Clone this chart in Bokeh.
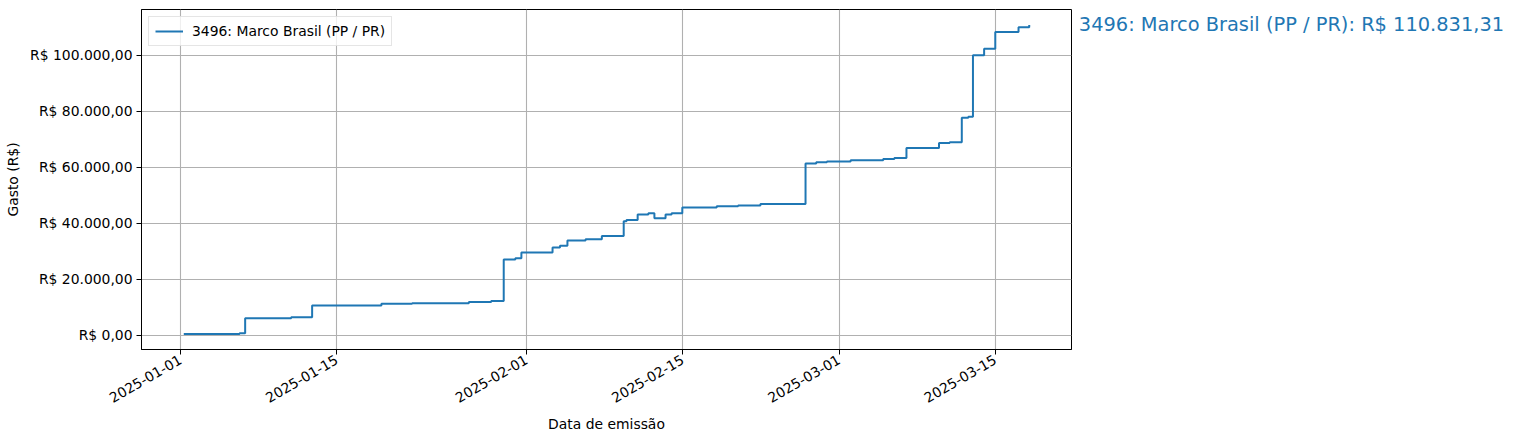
import math
import pandas as pd
from bokeh.plotting import figure
from bokeh.layouts import row
from bokeh.models import (FixedTicker, DatetimeTickFormatter, CustomJSTickFormatter, Range1d)
from bokeh.core.properties import value
from bokeh.embed import file_html
from bokeh.resources import INLINE

# ---- data ----
series_name = "3496: Marco Brasil (PP / PR)"
dates = [
    "2025-01-01 07:00", "2025-01-06 07:00", "2025-01-06 19:00", "2025-01-10 22:00",
    "2025-01-12 19:00", "2025-01-19 00:00", "2025-01-21 18:00", "2025-01-26 20:00",
    "2025-01-28 20:00", "2025-01-29 23:00", "2025-01-31 00:00", "2025-01-31 13:00",
    "2025-02-03 08:00", "2025-02-04 00:00", "2025-02-04 16:00", "2025-02-06 07:00",
    "2025-02-07 18:00", "2025-02-09 17:00", "2025-02-09 23:00", "2025-02-10 23:00",
    "2025-02-11 22:00", "2025-02-12 11:00", "2025-02-13 11:00", "2025-02-14 00:00",
    "2025-02-14 23:00", "2025-02-18 01:00", "2025-02-19 23:00", "2025-02-21 23:00",
    "2025-02-26 00:00", "2025-02-26 23:00", "2025-02-27 22:00", "2025-03-02 01:00",
    "2025-03-04 23:00", "2025-03-05 23:00", "2025-03-07 01:00", "2025-03-09 23:00",
    "2025-03-10 22:00", "2025-03-12 00:00", "2025-03-12 14:00", "2025-03-13 00:00",
    "2025-03-14 00:00", "2025-03-15 00:00", "2025-03-17 02:00", "2025-03-18 01:00",
]
gasto = [
    500, 800, 6150, 6500,
    10700, 11300, 11500, 11900,
    12300, 27100, 27600, 29600,
    31400, 32000, 33900, 34300,
    35500, 40800, 41200, 43200,
    43600, 41800, 43200, 43600,
    45700, 46100, 46400, 46900,
    61400, 61800, 62100, 62500,
    63000, 63300, 66900, 68700,
    69000, 77700, 78100, 100000,
    102300, 108300, 110000, 110831.31,
]
x_tick_labels = ["2025-01-01", "2025-01-15", "2025-02-01", "2025-02-15", "2025-03-01", "2025-03-15"]
y_ticks = [0, 20000, 40000, 60000, 80000, 100000]
final_label = "3496: Marco Brasil (PP / PR): R$ 110.831,31"

# ---- build ----
xs = pd.to_datetime(dates)
def ms(t):
    return pd.Timestamp(t).value / 1e6
xms = [ms(t) for t in xs]
x0, x1 = min(xms), max(xms)
xm = 0.05 * (x1 - x0)
y0, y1 = min(gasto), max(gasto)
ym = 0.05 * (y1 - y0)

FONT = "DejaVu Sans"
FS = "13.9px"
BLUE = "#1f77b4"
FW, FH = 930, 340
TOP, BOTTOM, RIGHT = 9, 88, 1

p = figure(frame_width=FW, frame_height=FH, output_backend="svg", toolbar_location=None,
           x_axis_type="datetime",
           x_range=Range1d(x0 - xm, x1 + xm), y_range=Range1d(y0 - ym, y1 + ym),
           min_border_left=141, min_border_right=RIGHT, min_border_top=TOP, min_border_bottom=BOTTOM)
p.outline_line_color = "black"
p.outline_line_width = 1
p.background_fill_color = "white"
p.border_fill_color = "white"

p.step(xs, gasto, mode="after", line_color=BLUE, line_width=2, legend_label=series_name)

# axes
p.xaxis.ticker = FixedTicker(ticks=[ms(t) for t in x_tick_labels])
fmt = "%Y-%m-%d"
p.xaxis.formatter = DatetimeTickFormatter(milliseconds=fmt, seconds=fmt, minsec=fmt, minutes=fmt,
                                          hourmin=fmt, hours=fmt, days=fmt, months=fmt, years=fmt)
p.xaxis.major_label_orientation = math.pi / 6
p.yaxis.ticker = FixedTicker(ticks=y_ticks)
p.yaxis.formatter = CustomJSTickFormatter(code="""
const s = tick.toFixed(2); const parts = s.split('.');
return 'R$ ' + parts[0].replace(/\\B(?=(\\d{3})+(?!\\d))/g, '.') + ',' + parts[1];
""")
p.xaxis.axis_label = "Data de emissão"
p.yaxis.axis_label = "Gasto (R$)"
for ax in (p.xaxis, p.yaxis):
    ax.axis_label_text_font = FONT
    ax.axis_label_text_font_size = FS
    ax.axis_label_text_font_style = "normal"
    ax.axis_label_text_color = "black"
    ax.major_label_text_font = FONT
    ax.major_label_text_font_size = FS
    ax.major_label_text_color = "black"
    ax.axis_line_color = "black"
    ax.major_tick_line_color = "black"
    ax.major_tick_in = 0
    ax.major_tick_out = 5
    ax.minor_tick_line_color = None
    ax.major_label_standoff = 4
p.xaxis.axis_label_standoff = 5
p.yaxis.axis_label_standoff = 6

for g in (p.xgrid, p.ygrid):
    g.grid_line_color = "#b0b0b0"
    g.grid_line_width = 1.1

# legend
lg = p.legend[0]
lg.location = "top_left"
lg.margin = 7
lg.padding = 6
lg.label_text_font = FONT
lg.label_text_font_size = FS
lg.label_text_color = "black"
lg.glyph_width = 28
lg.glyph_height = 14
lg.label_standoff = 9
lg.border_line_color = "#cccccc"
lg.border_line_width = 1
lg.background_fill_alpha = 0.8

# side panel with the final value, aligned on the shared y range
SIDE_W = 440
side = figure(frame_width=SIDE_W, frame_height=FH, output_backend="svg", toolbar_location=None,
              x_range=Range1d(0, SIDE_W), y_range=p.y_range,
              x_axis_location=None, y_axis_location=None,
              min_border_left=0, min_border_right=0, min_border_top=TOP, min_border_bottom=BOTTOM)
side.outline_line_color = None
side.xgrid.visible = False
side.ygrid.visible = False
side.text(x=[0.01 * FW - RIGHT - 2], y=[gasto[-1]], text=[final_label],
          text_font=value(FONT), text_font_size="19.4px", text_color=BLUE,
          text_baseline="middle", text_align="left")

layout = row(p, side)
open("out.html", "w").write(file_html(layout, INLINE))
